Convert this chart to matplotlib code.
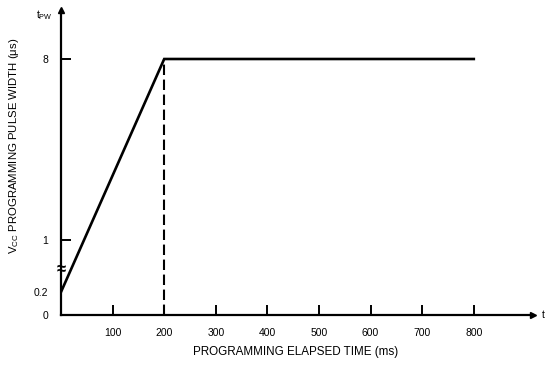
#!/usr/bin/env python3
"""Programming pulse width vs. programming elapsed time (datasheet style)."""

import numpy as np
import matplotlib
matplotlib.use('Agg')
import matplotlib.pyplot as plt

# data
PULSE_TIME = [0, 200, 800]          # ms
PULSE_WIDTH = [0.2, 8, 8]           # us
DASH_TIME = [200, 200]
DASH_WIDTH = [0, 8]

X_TICKS = [100, 200, 300, 400, 500, 600, 700, 800]
Y_TICKS = [0, 0.2, 1, 8]
Y_TICK_LABELS = ['0', '0.2', '1', '8']

# broken y axis: value -> height (px above the time axis)
SCALE_VALUES = [0, 0.2, 1, 8, 10]
SCALE_PIXELS = [0, 23, 75, 256, 307.7]


def forward(y):
    return np.interp(y, SCALE_VALUES, SCALE_PIXELS)


def inverse(p):
    return np.interp(p, SCALE_PIXELS, SCALE_VALUES)


plt.rcParams['font.family'] = ['Liberation Sans', 'DejaVu Sans']

W, H = 547, 366
fig = plt.figure(figsize=(W / 100, H / 100), dpi=100)
left, right, bottom, top = 61, 533, 315, 10
ax = fig.add_axes([left / W, 1 - bottom / H, (right - left) / W, (bottom - top) / H])

ax.set_yscale('function', functions=(forward, inverse))
ax.set_xlim(0, (right - left) / 0.516)
ax.set_ylim(0, inverse(bottom - top))

ax.plot(PULSE_TIME, PULSE_WIDTH, color='black', lw=1.9, solid_joinstyle='miter')
ax.plot(DASH_TIME, DASH_WIDTH, color='black', lw=1.5, dashes=(5, 2.2))

for side in ['top', 'right']:
    ax.spines[side].set_visible(False)
for side in ['left', 'bottom']:
    ax.spines[side].set_linewidth(1.6)

# arrow heads on the axes
ax.plot(1, 0, '>k', ms=5, transform=ax.get_yaxis_transform(), clip_on=False)
ax.plot(0, 1, '^k', ms=5, transform=ax.get_xaxis_transform(), clip_on=False)

ax.set_xticks(X_TICKS)
ax.set_xticklabels([str(t) for t in X_TICKS])
ax.set_yticks(Y_TICKS)
ax.set_yticklabels(Y_TICK_LABELS)
ax.minorticks_off()
ax.tick_params(axis='both', direction='in', length=7, width=1.4, labelsize=7.5, colors='black')
ax.tick_params(axis='x', pad=9)
ax.tick_params(axis='y', pad=9)
for tick in ax.yaxis.get_major_ticks()[:2]:
    tick.tick1line.set_visible(False)

ax.set_xlabel('PROGRAMMING ELAPSED TIME (ms)', fontsize=8.4)
ax.xaxis.set_label_coords(0.496, -0.103)
ax.set_ylabel('V$_{\\mathregular{CC}}$ PROGRAMMING PULSE WIDTH (\u03bcs)', fontsize=8.2)
ax.yaxis.set_label_coords(-0.085, 0.554)

# axis break mark and axis names
ax.text(0, 0.55, '\u2248', transform=ax.get_yaxis_transform(), ha='center', va='center',
        fontsize=12, fontweight='bold')
ax.text(-0.017, 0.984, r't$_{\mathregular{PW}}$', transform=ax.transAxes, ha='right', va='center',
        fontsize=7.5)
ax.text(1.022, 0, 't', transform=ax.transAxes, ha='center', va='center', fontsize=7.5)

fig.savefig('out.png', dpi=100)
